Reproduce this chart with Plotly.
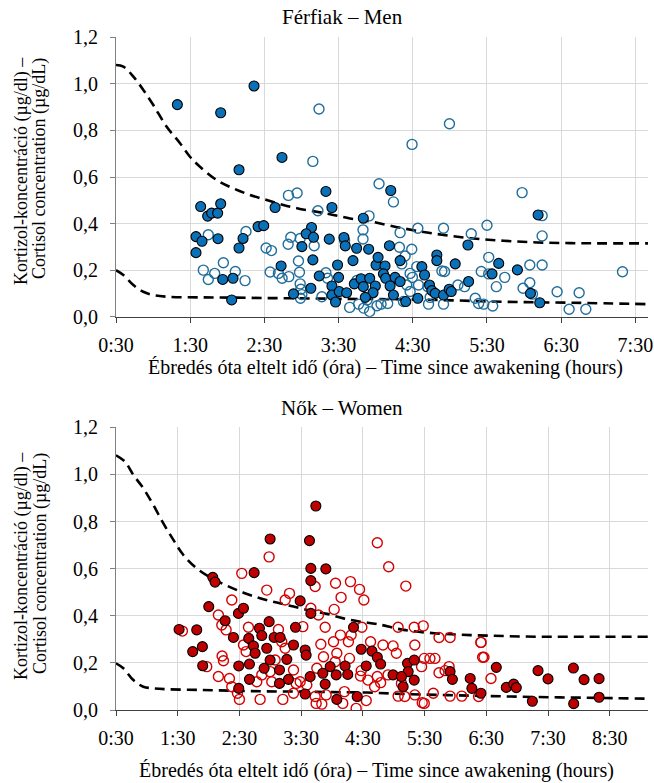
import plotly.graph_objects as go

# ---------------- Men (Férfiak) ----------------
# filled markers
men_a_time = [1.327, 1.911, 2.36, 2.737, 1.641, 1.735, 1.789, 1.870, 1.911, 1.578, 1.659, 1.578, 1.875, 1.938,
              2.158, 3.329, 2.644, 3.410, 3.833, 2.414, 2.491, 3.135, 3.063, 3.162, 3.005, 3.374, 2.212, 2.158,
              3.153, 2.725, 2.077, 2.059, 2.892, 3.126, 3.239, 3.486, 3.572, 3.590, 3.743, 3.694, 3.905, 3.410,
              3.500, 3.410, 3.459, 3.509, 3.608, 3.712, 3.802, 3.833, 3.919, 3.995, 3.964, 3.860, 4.005, 4.032,
              4.203, 4.185, 4.126, 4.104, 4.135, 4.261, 4.194, 4.329, 4.239, 4.329, 4.405, 4.568, 4.622, 4.658,
              4.725, 4.824, 4.824, 4.757, 4.802, 4.914, 4.991, 5.018, 5.072, 5.252, 5.243, 5.568, 5.658, 5.910,
              6.189, 6.211, 6.086]
men_a_cort = [0.911, 0.876, 0.991, 0.684, 0.473, 0.432, 0.445, 0.445, 0.485, 0.344, 0.324, 0.275, 0.335, 0.160,
              0.631, 0.538, 0.469, 0.469, 0.423, 0.387, 0.391, 0.383, 0.356, 0.341, 0.301, 0.333, 0.336, 0.295,
              0.244, 0.218, 0.165, 0.072, 0.098, 0.122, 0.175, 0.222, 0.340, 0.304, 0.294, 0.241, 0.290, 0.132,
              0.169, 0.093, 0.063, 0.108, 0.103, 0.141, 0.163, 0.129, 0.165, 0.132, 0.103, 0.083, 0.222, 0.255,
              0.542, 0.305, 0.218, 0.184, 0.165, 0.169, 0.132, 0.241, 0.093, 0.151, 0.065, 0.079, 0.215, 0.179,
              0.136, 0.265, 0.241, 0.112, 0.100, 0.093, 0.118, 0.108, 0.227, 0.151, 0.308, 0.184, 0.229, 0.201,
              0.437, 0.060, 0.100]
# open markers
men_b_time = [1.744, 1.677, 1.744, 1.830, 1.947, 3.236, 4.49, 4.994,
              3.153, 2.824, 2.941, 3.221, 3.910, 4.045, 2.252, 2.108, 2.239, 2.523, 2.595, 2.856, 2.820, 2.982,
              3.171, 2.959, 2.973, 2.577, 2.689, 2.739, 2.829, 2.982, 2.991, 3.005, 2.986, 3.275, 3.329, 3.351,
              3.581, 3.829, 3.829, 3.748, 3.649, 3.770, 3.883, 3.919, 3.838, 4.018,
              4.239, 4.329, 4.568, 4.914, 5.288, 5.500, 4.320, 4.486, 4.396, 4.351, 4.554, 4.464, 4.495, 4.419,
              4.577, 4.464, 4.374, 4.703, 4.734, 4.712, 4.914, 4.892, 4.928, 5.108, 5.198, 5.342, 5.387, 5.455,
              5.577, 5.523, 5.423, 5.523, 5.739, 5.626, 5.973, 5.986, 4.072, 4.162,
              6.243, 6.243, 6.077, 6.243, 6.077, 6.113, 6.445, 6.607, 6.742, 6.832, 7.326]
men_b_cort = [0.352, 0.200, 0.160, 0.186, 0.232, 0.892, 0.740, 0.829,
              0.667, 0.521, 0.531, 0.455, 0.433, 0.571, 0.366, 0.194, 0.155, 0.295, 0.284, 0.341, 0.311, 0.336,
              0.305, 0.239, 0.191, 0.192, 0.186, 0.165, 0.172, 0.141, 0.118, 0.095, 0.079, 0.086, 0.189, 0.165,
              0.327, 0.373, 0.334, 0.156, 0.040, 0.054, 0.072, 0.022, 0.037, 0.047,
              0.493, 0.361, 0.380, 0.380, 0.356, 0.393, 0.298, 0.290, 0.261, 0.227, 0.215, 0.186, 0.169, 0.136,
              0.136, 0.108, 0.065, 0.129, 0.083, 0.054, 0.054, 0.196, 0.194, 0.136, 0.129, 0.079, 0.057, 0.054,
              0.046, 0.255, 0.194, 0.184, 0.169, 0.129, 0.533, 0.122, 0.054, 0.057,
              0.434, 0.347, 0.222, 0.222, 0.146, 0.097, 0.107, 0.032, 0.103, 0.032, 0.193]
# reference limits
men_hi_time = [0.5, 0.599, 0.734, 0.868, 1.003, 1.183, 1.363, 1.497, 1.632, 1.857, 2.081, 2.306, 2.531, 2.755,
               2.980, 3.204, 3.429, 3.654, 3.878, 4.379, 4.828, 5.277, 5.726, 6.176, 6.625, 7.074, 7.67]
men_hi_cort = [1.081, 1.074, 1.031, 0.974, 0.909, 0.816, 0.745, 0.687, 0.644, 0.587, 0.551, 0.523, 0.501, 0.480,
               0.463, 0.451, 0.437, 0.422, 0.412, 0.379, 0.355, 0.337, 0.326, 0.319, 0.316, 0.315, 0.315]
men_lo_time = [0.5, 0.599, 0.734, 0.868, 1.003, 1.183, 1.632, 2.081, 2.531, 2.980, 3.429, 3.878, 4.828, 5.726,
               6.625, 7.67]
men_lo_cort = [0.200, 0.179, 0.136, 0.107, 0.093, 0.086, 0.083, 0.082, 0.080, 0.079, 0.077, 0.076, 0.072, 0.064,
               0.060, 0.054]

# ---------------- Women (Nők) ----------------
women_a_time = [1.522, 2.997, 3.635, 3.738,
                6.662, 6.824, 6.943, 6.986, 7.246, 7.338, 7.5, 7.911, 7.916, 8.084, 8.327, 8.327,
                2.068, 2.105, 2.738, 3.657, 3.9, 3.657, 3.484, 2.003, 2.484, 2.565, 3.657, 1.808, 2.268, 2.403,
                2.981, 2.824, 3.408, 1.743, 1.9, 1.905, 2.489, 2.651, 2.862, 2.727, 2.662, 2.754, 2.943, 2.997,
                2.9, 3.062, 3.159, 3.376, 3.268, 3.149, 3.149, 3.295, 3.565, 3.581, 3.646, 3.851, 3.97, 4.068,
                2.662, 2.489, 3.565, 3.889, 4.078,
                4.348, 4.473, 4.647, 4.734, 4.788, 4.554, 4.212, 4.255, 5.223, 5.332, 5.234, 4.989, 5.125, 5.332,
                5.152, 5.913, 5.951, 6.239, 6.266, 6.413, 4.408]
women_a_cort = [0.342, 0.726, 0.719, 0.866,
                0.181, 0.096, 0.110, 0.095, 0.037, 0.167, 0.132, 0.178, 0.027, 0.129, 0.133, 0.054,
                0.563, 0.543, 0.583, 0.601, 0.599, 0.549, 0.463, 0.439, 0.410, 0.432, 0.410, 0.340, 0.379, 0.308,
                0.375, 0.347, 0.351, 0.248, 0.269, 0.188, 0.187, 0.304, 0.316, 0.272, 0.195, 0.241, 0.262, 0.212,
                0.177, 0.308, 0.308, 0.276, 0.215, 0.170, 0.113, 0.130, 0.255, 0.233, 0.142, 0.156, 0.184, 0.149,
                0.130, 0.092, 0.068, 0.110, 0.045,
                0.351, 0.258, 0.250, 0.224, 0.195, 0.187, 0.187, 0.151, 0.198, 0.212, 0.163, 0.149, 0.142, 0.127,
                0.099, 0.163, 0.130, 0.134, 0.092, 0.071, 0.057]
women_b_time = [1.576, 6.414, 6.462, 6.576,
                2.981, 2.538, 2.943, 3.311, 3.241, 2.376, 3.727, 4.057, 4.035, 3.657, 3.781, 2.159, 2.214, 2.284,
                2.646, 3.132, 3.527, 3.889, 3.819, 4.024, 2.565, 2.608, 3.186, 3.241, 2.219, 2.241, 1.970, 2.159,
                2.338, 2.376, 2.468, 2.5, 2.835, 2.781, 2.862, 2.997, 3.024, 3.078, 3.376, 3.419, 3.203, 3.376,
                3.484, 3.727, 3.743, 3.835, 3.905, 3.754, 3.862, 4.078, 4.051, 3.592,
                4.734, 4.918, 5.196, 4.299, 4.147, 4.446, 4.516, 4.484, 5.071, 5.332, 5.478, 5.734, 5.913, 6.413,
                6.440, 4.136, 4.310, 4.266, 4.625, 4.826, 4.989, 5.043, 5.342, 5.495, 5.587, 5.668, 5.451, 5.734,
                5.832, 5.897, 4.283, 4.473, 4.462, 4.582, 4.734, 4.788, 4.908, 5.125, 5.071, 5.179, 5.342, 5.462,
                5.641, 5.913, 6.103, 6.375, 4.554, 4.391, 4.174, 4.201, 4.690, 5.495]
women_b_cort = [0.335, 0.287, 0.224, 0.134,
                0.650, 0.580, 0.509, 0.495, 0.467, 0.467, 0.524, 0.538, 0.427, 0.432, 0.403, 0.403, 0.361, 0.340,
                0.351, 0.342, 0.354, 0.351, 0.279, 0.290, 0.276, 0.248, 0.290, 0.262, 0.229, 0.209, 0.184, 0.142,
                0.134, 0.099, 0.071, 0.045, 0.045, 0.120, 0.149, 0.163, 0.120, 0.212, 0.170, 0.113, 0.045, 0.071,
                0.120, 0.057, 0.028, 0.025, 0.064, 0.177, 0.226, 0.241, 0.205, 0.106,
                0.710, 0.608, 0.526, 0.545, 0.478, 0.512, 0.467, 0.351, 0.351, 0.351, 0.357, 0.308, 0.308, 0.287,
                0.224, 0.318, 0.318, 0.290, 0.290, 0.276, 0.272, 0.241, 0.276, 0.219, 0.219, 0.219, 0.184, 0.158,
                0.167, 0.184, 0.219, 0.167, 0.144, 0.127, 0.142, 0.116, 0.149, 0.113, 0.059, 0.057, 0.064, 0.031,
                0.071, 0.059, 0.059, 0.057, 0.040, 0.007, 0.028, 0.078, 0.099, 0.028]
women_hi_time = [0.5, 0.646, 0.781, 0.943, 1.105, 1.268, 1.430, 1.592, 1.808, 2.024, 2.295, 2.565, 2.835, 3.105,
                 3.376, 3.646, 3.916, 4.186, 4.457, 4.727, 5.159, 5.7, 6.241, 6.781, 7.322, 7.862, 8.403, 9.12]
women_hi_cort = [1.081, 1.054, 0.998, 0.941, 0.870, 0.792, 0.722, 0.658, 0.601, 0.563, 0.528, 0.498, 0.474, 0.456,
                 0.439, 0.422, 0.408, 0.389, 0.375, 0.365, 0.340, 0.325, 0.318, 0.314, 0.311, 0.311, 0.311, 0.311]
women_lo_time = [0.5, 0.619, 0.781, 0.943, 1.105, 1.322, 1.862, 2.403, 2.943, 3.484, 4.024, 4.565, 5.159, 6.241,
                 7.322, 8.403, 9.12]
women_lo_cort = [0.198, 0.177, 0.127, 0.099, 0.092, 0.088, 0.085, 0.082, 0.079, 0.078, 0.076, 0.074, 0.068, 0.061,
                 0.055, 0.051, 0.048]

y_ticks = [0.0, 0.2, 0.4, 0.6, 0.8, 1.0, 1.2]
y_labels = ["0,0", "0,2", "0,4", "0,6", "0,8", "1,0", "1,2"]
men_x_ticks = [0.5, 1.5, 2.5, 3.5, 4.5, 5.5, 6.5, 7.5]
women_x_ticks = [0.5, 1.5, 2.5, 3.5, 4.5, 5.5, 6.5, 7.5, 8.5]
x_labels = ["0:30", "1:30", "2:30", "3:30", "4:30", "5:30", "6:30", "7:30", "8:30"]

W, H = 654, 783
FONT = "'Liberation Serif', Tinos, 'Times New Roman', 'DejaVu Serif', serif"

fig = go.Figure()


def add_panel(xa, ya, a_t, a_c, b_t, b_c, hi_t, hi_c, lo_t, lo_c, fill, ring):
    for t, c in ((hi_t, hi_c), (lo_t, lo_c)):
        fig.add_trace(go.Scatter(x=t, y=c, mode="lines", xaxis=xa, yaxis=ya,
                                 line=dict(color="black", width=2.6, dash="10px,6px", shape="spline"),
                                 hoverinfo="skip"))
    fig.add_trace(go.Scatter(x=b_t, y=b_c, mode="markers", xaxis=xa, yaxis=ya,
                             marker=dict(symbol="circle-open", size=10, color=ring,
                                         line=dict(color=ring, width=1.4))))
    fig.add_trace(go.Scatter(x=a_t, y=a_c, mode="markers", xaxis=xa, yaxis=ya,
                             marker=dict(symbol="circle", size=10, color=fill,
                                         line=dict(color="black", width=1.1))))


add_panel("x", "y", men_a_time, men_a_cort, men_b_time, men_b_cort,
          men_hi_time, men_hi_cort, men_lo_time, men_lo_cort, "#0A70B8", "#1F6E9C")
add_panel("x2", "y2", women_a_time, women_a_cort, women_b_time, women_b_cort,
          women_hi_time, women_hi_cort, women_lo_time, women_lo_cort, "#BE0000", "#D40000")


def px_x(p):
    return p / W


def px_y(p):
    return 1 - p / H


axis_common = dict(showgrid=True, gridcolor="#D9D9D9", gridwidth=1, zeroline=False,
                   ticks="outside", ticklen=5, tickwidth=1, automargin=False,
                   tickfont=dict(family=FONT, size=20, color="black"), showline=True)

fig.update_layout(
    width=W, height=H, margin=dict(l=0, r=0, t=0, b=0, autoexpand=False),
    paper_bgcolor="white", plot_bgcolor="white", showlegend=False,
    font=dict(family=FONT, size=18, color="black"),
    xaxis=dict(domain=[px_x(116), px_x(648)], range=[0.5, 7.67], anchor="y",
               tickvals=men_x_ticks, ticktext=x_labels[:8], linecolor="#404040", tickcolor="#404040",
               ticklabelstandoff=5, **axis_common),
    yaxis=dict(domain=[px_y(316.7), px_y(37.3)], range=[0, 1.2], anchor="x",
               tickvals=y_ticks, ticktext=y_labels, linecolor="#808080", tickcolor="#808080",
               ticklabelstandoff=8, **axis_common),
    xaxis2=dict(domain=[px_x(116), px_x(648)], range=[0.5, 9.12], anchor="y2",
                tickvals=women_x_ticks, ticktext=x_labels, linecolor="#404040", tickcolor="#404040",
                ticklabelstandoff=5, **axis_common),
    yaxis2=dict(domain=[px_y(710), px_y(427.3)], range=[0, 1.2], anchor="x2",
                tickvals=y_ticks, ticktext=y_labels, linecolor="#808080", tickcolor="#808080",
                ticklabelstandoff=8, **axis_common),
)

notes = [
    ("Férfiak – Men", 342, 17, 0, 21),
    ("Nők – Women", 342, 408, 0, 21),
    ("Ébredés óta eltelt idő (óra) – Time since awakening (hours)", 385, 367, 0, 20),
    ("Ébredés óta eltelt idő (óra) – Time since awakening (hours)", 376, 770, 0, 20),
    ("Kortizol-koncentráció (µg/dl) –", 21, 171, -90, 18),
    ("Cortisol concentration (µg/dL)", 40, 169, -90, 18),
    ("Kortizol-koncentráció (µg/dl) –", 21, 566, -90, 18),
    ("Cortisol concentration (µg/dL)", 40, 564, -90, 18),
]
for txt, x, y, ang, size in notes:
    fig.add_annotation(text=txt, x=px_x(x), y=px_y(y), xref="paper", yref="paper",
                       xanchor="center", yanchor="middle", showarrow=False,
                       textangle=ang, font=dict(family=FONT, size=size, color="black"))

fig.write_html("out.html")
